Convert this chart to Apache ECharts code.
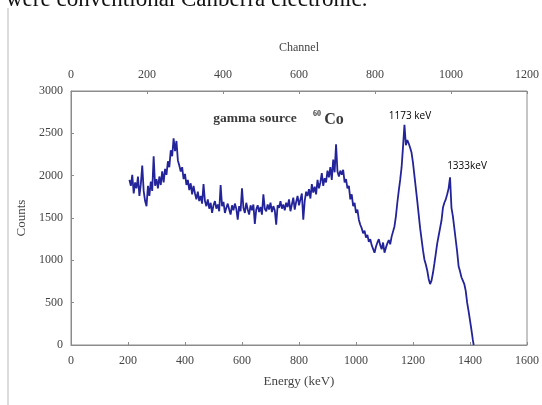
<!DOCTYPE html>
<html>
<head>
<meta charset="utf-8">
<script src="https://cdn.jsdelivr.net/npm/echarts@6/dist/echarts.min.js"></script>
<style>
html,body{margin:0;padding:0;background:#fff;}
#c{width:542px;height:405px;}
</style>
</head>
<body>
<div id="c"></div>
<script>
// Energy (keV) of each sampled point
const energy = [
 205,210,215,220,225,230,235,240,245,250,
 255,260,265,270,275,280,285,290,295,300,
 305,310,315,320,325,330,335,340,345,350,
 355,360,365,370,375,380,385,390,395,400,
 405,410,415,420,425,430,435,440,445,450,
 455,460,465,470,475,480,485,490,495,500,
 505,510,515,520,525,530,535,540,545,550,
 555,560,565,570,575,580,585,590,595,600,
 605,610,615,620,625,630,635,640,645,650,
 655,660,665,670,675,680,685,690,695,700,
 705,710,715,720,725,730,735,740,745,750,
 755,760,765,770,775,780,785,790,795,800,
 805,810,815,820,825,830,835,840,845,850,
 855,860,865,870,875,880,885,890,895,900,
 905,910,915,920,925,930,935,940,945,950,
 955,960,965,970,975,980,985,990,995,1000,
 1005,1010,1015,1020,1025,1030,1035,1040,1045,1050,
 1055,1060,1065,1070,1075,1080,1085,1090,1095,1100,
 1105,1110,1115,1120,1125,1130,1135,1140,1145,1150,
 1155,1160,1165,1170,1175,1180,1185,1190,1195,1200,
 1205,1210,1215,1220,1225,1230,1235,1240,1245,1250,
 1255,1260,1265,1270,1275,1280,1285,1290,1295,1300,
 1305,1310,1315,1320,1325,1330,1335,1340,1345,1350,
 1355,1360,1365,1370,1375,1380,1385,1390,1395,1400,
 1405,1410,1413
];
// Counts
const counts = [
 1950,1880,2010,1790,1920,1850,1990,1760,1900,2120,
 1820,1700,1640,1880,1760,1930,1820,2230,1880,1960,
 1850,1990,1890,2050,1920,2080,2010,2170,2100,2300,
 2230,2440,2290,2410,2180,2120,2050,2100,1960,2020,
 1890,1950,1830,1910,1780,1880,1790,1720,1810,1700,
 1760,1670,1900,1700,1640,1720,1610,1680,1560,1650,
 1700,1610,1660,1580,1890,1640,1690,1560,1620,1670,
 1600,1540,1650,1590,1670,1610,1480,1640,1580,1850,
 1620,1560,1680,1600,1540,1650,1590,1660,1430,1600,
 1650,1570,1630,1540,1780,1610,1580,1660,1600,1680,
 1570,1640,1590,1420,1650,1620,1700,1610,1660,1590,
 1680,1630,1720,1580,1660,1740,1600,1690,1760,1650,
 1720,1790,1480,1700,1810,1760,1840,1730,1900,1800,
 1870,1780,1950,1850,1920,2030,1880,1970,1920,2060,
 1980,2100,1950,2190,2040,2370,2050,1990,2060,2010,
 2070,1920,1960,1850,1880,1720,1780,1640,1680,1560,
 1600,1480,1420,1380,1320,1350,1270,1300,1220,1250,
 1180,1200,1090,1160,1210,1250,1180,1130,1210,1090,
 1150,1200,1240,1190,1280,1260,1400,1520,1680,1820,
 1950,2100,2340,2600,2360,2420,2380,2330,2270,2150,
 2000,1850,1700,1540,1380,1250,1120,1010,950,880,
 780,720,760,850,960,1080,1200,1290,1380,1470,
 1620,1680,1720,1780,1850,1980,1620,1520,1380,1240,
 1100,930,870,800,760,720,640,500,400,290,
 180,60,0
];
const energyTicks = [0, 1600, 200];   // min, max, step
const channelTicks = [0, 1200, 200];
const countTicks = [0, 3000, 500];

const serif = "'Liberation Serif', 'Times New Roman', serif";
const sans = "'Open Sans', 'Liberation Sans', sans-serif";
const axisColor = '#8c8c8c';
const labelColor = '#444';
const plain = v => String(v);

const chart = echarts.init(document.getElementById('c'), null, {renderer: 'canvas'});

const commonAxis = {
  axisLine: {show: true, lineStyle: {color: axisColor, width: 1}},
  axisTick: {show: true, inside: true, length: 3, lineStyle: {color: axisColor}},
  splitLine: {show: false},
  axisLabel: {fontFamily: serif, fontSize: 12, color: labelColor, margin: 10, formatter: plain}
};

chart.setOption({
  animation: false,
  backgroundColor: '#fff',
  grid: {left: 71, right: 9, top: 91, bottom: 60, show: true, borderColor: axisColor, borderWidth: 1},
  xAxis: [
    Object.assign({}, commonAxis, {
      type: 'value', position: 'bottom',
      min: energyTicks[0], max: energyTicks[1], interval: energyTicks[2],
      name: 'Energy (keV)', nameLocation: 'middle', nameGap: 30,
      nameTextStyle: {fontFamily: serif, fontSize: 13, color: labelColor}
    }),
    Object.assign({}, commonAxis, {
      type: 'value', position: 'top',
      min: channelTicks[0], max: channelTicks[1], interval: channelTicks[2],
      name: 'Channel', nameLocation: 'middle', nameGap: 37,
      nameTextStyle: {fontFamily: serif, fontSize: 12, color: labelColor}
    })
  ],
  yAxis: [
    Object.assign({}, commonAxis, {
      type: 'value',
      min: countTicks[0], max: countTicks[1], interval: countTicks[2],
      axisLabel: {fontFamily: serif, fontSize: 12, color: labelColor, margin: 8, formatter: plain},
      name: 'Counts', nameLocation: 'middle', nameGap: 42,
      nameTextStyle: {fontFamily: serif, fontSize: 13, color: labelColor}
    })
  ],
  series: [{
    type: 'line',
    xAxisIndex: 0,
    yAxisIndex: 0,
    data: energy.map((e, i) => [e, counts[i]]),
    showSymbol: false,
    symbol: 'none',
    lineStyle: {color: '#23239a', width: 1.8},
    silent: true
  }],
  graphic: [
    {type: 'line', shape: {x1: 8, y1: 8, x2: 8, y2: 405}, style: {stroke: '#dcdcdc', lineWidth: 2}},
    {type: 'text', left: 6, top: -12, style: {text: 'were conventional Canberra electronic.', font: "23px " + serif, fill: '#111'}},
    {type: 'text', x: 255, y: 119, style: {text: 'gamma source', font: "bold 13.5px " + serif, fill: '#3a3a3a', align: 'center', verticalAlign: 'middle'}},
    {type: 'text', x: 317, y: 114, style: {text: '60', font: "bold 8px " + serif, fill: '#3a3a3a', align: 'center', verticalAlign: 'middle'}},
    {type: 'text', x: 334, y: 120, style: {text: 'Co', font: "bold 16px " + serif, fill: '#3a3a3a', align: 'center', verticalAlign: 'middle'}},
    {type: 'text', x: 410, y: 116, style: {text: '1173 keV', font: "10px " + sans, fill: '#000', align: 'center', verticalAlign: 'middle'}},
    {type: 'text', x: 467, y: 166, style: {text: '1333keV', font: "10px " + sans, fill: '#000', align: 'center', verticalAlign: 'middle'}}
  ]
});
</script>
</body>
</html>
